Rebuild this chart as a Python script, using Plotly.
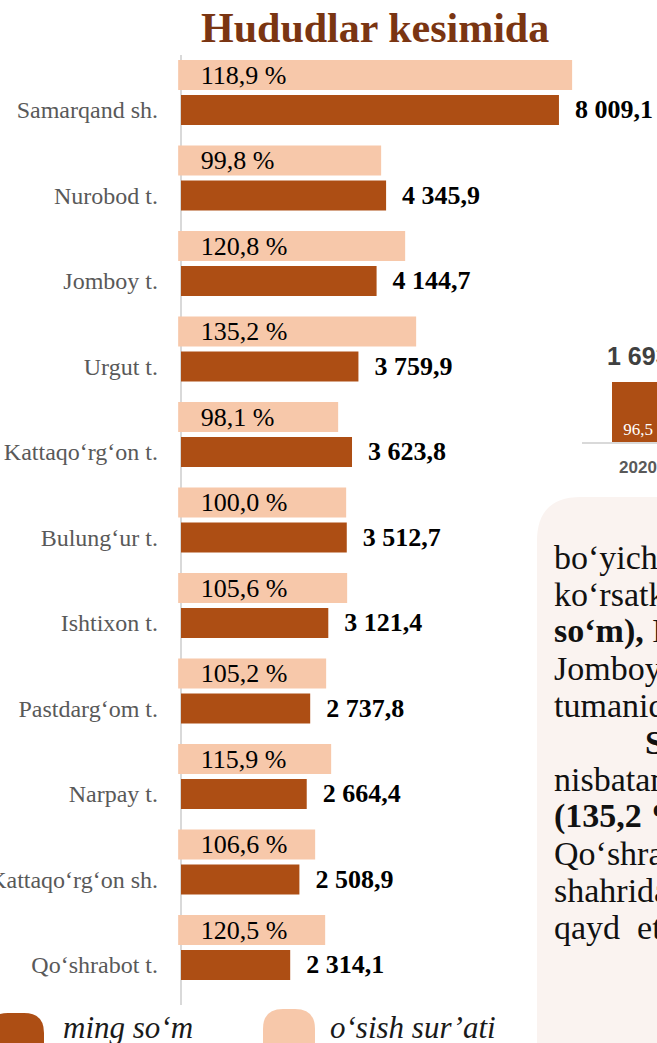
import plotly.graph_objects as go

# ---------------- data ----------------
regions = ["Samarqand sh.", "Nurobod t.", "Jomboy t.", "Urgut t.", "Kattaqo‘rg‘on t.",
           "Bulung‘ur t.", "Ishtixon t.", "Pastdarg‘om t.", "Narpay t.",
           "Kattaqo‘rg‘on sh.", "Qo‘shrabot t."]
values = [8009.1, 4345.9, 4144.7, 3759.9, 3623.8, 3512.7, 3121.4, 2737.8, 2664.4, 2508.9, 2314.1]
growth = [118.9, 99.8, 120.8, 135.2, 98.1, 100.0, 105.6, 105.2, 115.9, 106.6, 120.5]
# lengths of the light (growth) bars as drawn, read in the same units as "values"
growth_bar_len = [8348, 4301, 4810, 5043, 3390, 3560, 3581, 3136, 3242, 2903, 3115]

side_years = ["2020"]
side_values = [1693.0]
side_growth = [96.5]

legend_labels = ["ming so‘m", "o‘sish sur’ati"]
title_text = "Hududlar kesimida"
box_lines = ["bo‘yicha eng yuqori", "ko‘rsatkich Samarqand", "<b>so‘m),</b> Nurobod",
             "Jomboy tumanida", "tumanida kuzatildi", "<b>Samarqand</b>", "nisbatan eng yuqori",
             "<b>(135,2 %)</b> Urgut", "Qo‘shrabot tumanida", "shahrida esa", "qayd\u00a0\u00a0etilgan"]

# ---------------- styles ----------------
W, H = 657, 1043
DARK = "#AD4E14"
LIGHT = "#F7C8AA"
SERIF = "Liberation Serif, Times New Roman, serif"
SANS = "Liberation Sans, Arial, sans-serif"


def fmt_val(v):
    return f"{v:,.1f}".replace(",", " ").replace(".", ",")


def fmt_pct(g):
    return f"{g:.1f} %".replace(".", ",")


def px(x):
    return x / W


def py(y):
    return 1 - y / H


def rr(x0, y0, x1, y1, r):
    # rounded rectangle in screen pixels, converted to pixel-mode shape coords (y up)
    def p(x, y):
        return f"{x},{H - y}"
    return (f"M{p(x0 + r, y0)} L{p(x1 - r, y0)} Q{p(x1, y0)} {p(x1, y0 + r)} "
            f"L{p(x1, y1 - r)} Q{p(x1, y1)} {p(x1 - r, y1)} L{p(x0 + r, y1)} "
            f"Q{p(x0, y1)} {p(x0, y1 - r)} L{p(x0, y0 + r)} Q{p(x0, y0)} {p(x0 + r, y0)} Z")


n = len(regions)
idx = list(range(n))
pink_pos = [i - 0.409 for i in idx]

fig = go.Figure()

fig.add_trace(go.Bar(
    y=pink_pos, x=growth_bar_len, base=-60, orientation="h", width=0.351,
    marker=dict(color=LIGHT, line=dict(width=0)),
    text=["\u00a0\u00a0\u00a0" + fmt_pct(g) for g in growth],
    textposition="inside", insidetextanchor="start", textangle=0,
    constraintext="none",
    textfont=dict(family=SERIF, size=26, color="#000000"),
    name=legend_labels[1], showlegend=False, hoverinfo="skip",
))

fig.add_trace(go.Bar(
    y=idx, x=values, orientation="h", width=0.351,
    marker=dict(color=DARK, line=dict(width=0)),
    text=["\u00a0\u00a0" + fmt_val(v) for v in values],
    textposition="outside", textangle=0, constraintext="none", cliponaxis=False,
    textfont=dict(family=SERIF, size=26, color="#000000"),
    texttemplate="<b>%{text}</b>",
    name=legend_labels[0], showlegend=False, hoverinfo="skip",
))

# partial neighbouring chart on the right
fig.add_trace(go.Bar(
    x=[0], y=side_values, width=0.65, xaxis="x2", yaxis="y2",
    marker=dict(color=DARK, line=dict(width=0)),
    text=[f"{g:.1f}".replace(".", ",") for g in side_growth],
    textposition="inside", insidetextanchor="start", textangle=0, constraintext="none",
    textfont=dict(family=SERIF, size=17, color="#FFFFFF"),
    showlegend=False, hoverinfo="skip",
))

xr0 = -233
scale = 21.19  # units per pixel
fig.update_layout(
    width=W, height=H, margin=dict(l=0, r=0, t=0, b=0, autoexpand=False),
    paper_bgcolor="white", plot_bgcolor="rgba(0,0,0,0)",
    barmode="overlay", showlegend=False,
    xaxis=dict(domain=[px(170), 1], range=[xr0, xr0 + 487 * scale], automargin=False,
               showgrid=False, showticklabels=False, zeroline=True,
               zerolinecolor="#D9D9D9", zerolinewidth=2, fixedrange=True),
    yaxis=dict(domain=[py(1005), py(55)], range=[10.468, -0.643], automargin=False,
               tickvals=idx, ticktext=regions, showgrid=False, zeroline=False,
               ticks="", ticklabelstandoff=11,
               tickfont=dict(family=SERIF, size=24, color="#595959")),
    xaxis2=dict(domain=[px(582), 1], range=[-0.7, 0.2375], anchor="y2", automargin=False,
                tickvals=[0], ticktext=side_years, showgrid=False, zeroline=False,
                showline=True, linecolor="#D9D9D9", linewidth=2, ticks="",
                ticklabelstandoff=9,
                tickfont=dict(family=SANS, size=17, color="#595959", weight="bold")),
    yaxis2=dict(domain=[py(442), py(330)], range=[0, 3160], anchor="x2", automargin=False,
                visible=False),
)

shapes = [
    dict(type="path", xref="paper", yref="paper", xsizemode="pixel", ysizemode="pixel",
         xanchor=0, yanchor=0, path=rr(537, 497, 760, 1090, 44),
         fillcolor="#FAF3F0", line=dict(width=0), layer="below"),
    dict(type="path", xref="paper", yref="paper", xsizemode="pixel", ysizemode="pixel",
         xanchor=0, yanchor=0, path=rr(-12, 1013, 44, 1070, 20),
         fillcolor=DARK, line=dict(width=0), layer="above"),
    dict(type="path", xref="paper", yref="paper", xsizemode="pixel", ysizemode="pixel",
         xanchor=0, yanchor=0, path=rr(263, 1009, 315, 1070, 20),
         fillcolor=LIGHT, line=dict(width=0), layer="above"),
]

annotations = [
    dict(text=f"<b>{title_text}</b>", x=px(375), y=py(28), xref="paper", yref="paper",
         showarrow=False, xanchor="center", yanchor="middle",
         font=dict(family=SERIF, size=42, color="#7A3512")),
    dict(text=f"<i>{legend_labels[0]}</i>", x=px(61), y=py(1027), xref="paper", yref="paper",
         showarrow=False, xanchor="left", yanchor="middle",
         font=dict(family=SERIF, size=31, color="#1A1A1A")),
    dict(text=f"<i>{legend_labels[1]}</i>", x=px(328), y=py(1027), xref="paper", yref="paper",
         showarrow=False, xanchor="left", yanchor="middle",
         font=dict(family=SERIF, size=31, color="#1A1A1A")),
    dict(text="<b>" + fmt_val(side_values[0]).split(",")[0] + "</b>", x=0, y=side_values[0],
         xref="x2", yref="y2", showarrow=False, xanchor="center", yanchor="bottom", yshift=10,
         font=dict(family=SANS, size=25, color="#404040")),
]

for k, line in enumerate(box_lines):
    x0 = 643 if k == 5 else 552
    annotations.append(dict(text=line, x=px(x0), y=py(557 + 37 * k), xref="paper", yref="paper",
                            showarrow=False, xanchor="left", yanchor="middle",
                            font=dict(family=SERIF, size=34, color="#111111")))

fig.update_layout(shapes=shapes, annotations=annotations)

fig.write_html("out.html", config={"displayModeBar": False},
               post_script="document.body.style.margin='0';")
